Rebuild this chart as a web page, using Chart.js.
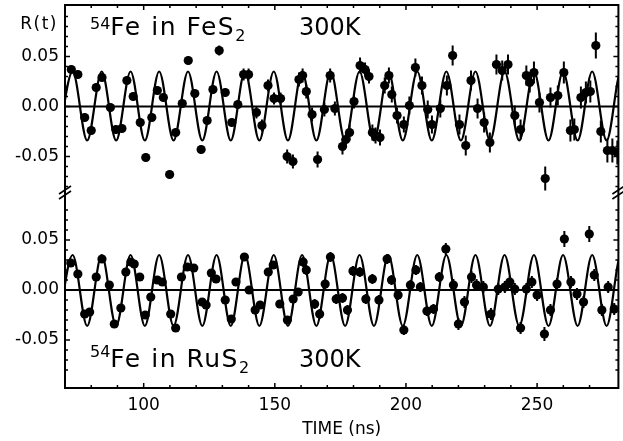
<!DOCTYPE html>
<html>
<head>
<meta charset="utf-8">
<script src="https://cdn.jsdelivr.net/npm/chart.js@4.4.1/dist/chart.umd.min.js"></script>
<style>
  html, body { margin: 0; padding: 0; background: #fff; }
  #wrap { width: 623px; height: 441px; }
</style>
</head>
<body>
<div id="wrap"><canvas id="myChart" width="623" height="441"></canvas></div>
<script>
// 54Fe in FeS2 (panneau du haut) : temps (ns), R(t), barre d'erreur
const timeTop = [72.4, 74.9, 77.5, 80.0, 81.9, 84.1, 87.3, 89.4, 91.7, 93.6,
  96.0, 98.7, 100.8, 103.1, 105.2, 107.5, 109.9, 112.2, 114.7, 117.0,
  119.5, 121.9, 124.2, 126.4, 128.8, 131.1, 133.6, 135.9, 138.1, 140.0,
  143.0, 145.1, 147.4, 149.7, 152.2, 154.7, 156.9, 159.2, 160.6, 162.0,
  164.2, 166.3, 168.9, 171.1, 172.9, 175.8, 177.1, 178.5, 180.2, 182.5,
  184.4, 185.9, 187.2, 188.4, 190.1, 191.9, 193.5, 194.6, 196.6, 199.2,
  201.3, 203.6, 206.1, 208.3, 209.9, 213.1, 215.6, 217.8, 220.4, 222.8,
  224.8, 227.3, 229.8, 232.0, 234.5, 236.7, 238.9, 241.5, 243.7, 245.9,
  247.2, 248.8, 250.9, 253.1, 255.1, 257.9, 260.2, 262.7, 264.2, 266.7,
  268.6, 270.3, 272.4, 274.3, 276.8, 278.7, 280.6];
const valueTop = [0.037, 0.032, -0.011, -0.024, 0.019, 0.029, -0.001, -0.023, -0.022, 0.026,
  0.010, -0.016, -0.051, -0.011, 0.016, 0.009, -0.068, -0.026, 0.003, 0.046,
  0.013, -0.043, -0.014, 0.017, 0.056, 0.014, -0.016, 0.002, 0.032, 0.032,
  -0.006, -0.019, 0.021, 0.008, 0.008, -0.050, -0.055, 0.027, 0.031, 0.015,
  -0.008, -0.053, -0.003, 0.031, -0.002, -0.040, -0.033, -0.026, 0.005, 0.041,
  0.037, 0.030, -0.026, -0.029, -0.031, 0.021, 0.031, 0.012, -0.009, -0.018,
  0.001, 0.039, 0.021, -0.003, -0.018, -0.002, 0.021, 0.051, -0.018, -0.039,
  0.026, -0.002, -0.016, -0.036, 0.042, 0.036, 0.042, -0.009, -0.023, 0.031,
  0.024, 0.034, 0.004, -0.072, 0.009, 0.011, 0.034, -0.024, -0.023, 0.009,
  0.014, 0.015, 0.061, -0.025, -0.044, -0.044, -0.046];
const errorTop = [0.004, 0.004, 0.004, 0.004, 0.004, 0.004, 0.004, 0.004, 0.004, 0.004,
  0.004, 0.004, 0.004, 0.004, 0.004, 0.004, 0.004, 0.004, 0.004, 0.004,
  0.004, 0.004, 0.004, 0.004, 0.005, 0.004, 0.004, 0.004, 0.006, 0.006,
  0.006, 0.006, 0.006, 0.006, 0.006, 0.007, 0.007, 0.007, 0.007, 0.007,
  0.007, 0.008, 0.007, 0.007, 0.007, 0.008, 0.008, 0.008, 0.007, 0.008,
  0.007, 0.007, 0.008, 0.008, 0.008, 0.008, 0.008, 0.008, 0.008, 0.008,
  0.009, 0.009, 0.009, 0.009, 0.009, 0.009, 0.010, 0.010, 0.010, 0.010,
  0.010, 0.010, 0.010, 0.010, 0.010, 0.010, 0.010, 0.010, 0.010, 0.010,
  0.010, 0.011, 0.010, 0.012, 0.010, 0.010, 0.011, 0.011, 0.011, 0.011,
  0.011, 0.011, 0.013, 0.011, 0.012, 0.012, 0.012];

// 54Fe in RuS2 (panneau du bas)
const timeBottom = [72.2, 74.9, 77.5, 79.4, 81.9, 84.1, 86.9, 88.8, 91.3, 93.2,
  95.1, 96.4, 98.5, 100.6, 102.7, 105.2, 107.1, 110.3, 112.2, 114.4,
  116.6, 119.1, 122.3, 123.8, 125.8, 127.6, 131.1, 133.4, 135.2, 138.4,
  140.2, 142.5, 144.4, 147.5, 149.4, 151.9, 154.8, 157.0, 158.9, 160.8,
  162.0, 165.2, 167.1, 169.2, 171.2, 173.4, 175.8, 177.7, 179.8, 182.4,
  184.7, 187.2, 189.7, 192.8, 194.5, 197.0, 199.2, 201.7, 203.8, 205.5,
  208.0, 210.5, 212.7, 215.2, 218.1, 220.0, 222.3, 225.0, 226.9, 229.5,
  232.4, 235.2, 237.7, 239.6, 241.5, 243.7, 245.9, 248.0, 250.0, 252.8,
  255.1, 257.6, 260.4, 262.9, 265.2, 267.7, 269.9, 271.8, 274.7, 277.1,
  279.4];
const valueBottom = [0.027, 0.016, -0.024, -0.022, 0.013, 0.031, 0.005, -0.034, -0.018, 0.018,
  0.028, 0.026, 0.013, -0.025, -0.007, 0.010, 0.008, -0.024, -0.038, 0.013,
  0.023, 0.022, -0.012, -0.015, 0.017, 0.011, -0.010, -0.029, 0.008, 0.033,
  0.000, -0.020, -0.015, 0.018, 0.025, -0.014, -0.030, -0.009, -0.002, 0.028,
  0.020, -0.014, -0.024, 0.006, 0.033, -0.009, -0.008, -0.020, 0.019, 0.018,
  -0.009, 0.011, -0.010, 0.031, 0.010, -0.005, -0.040, 0.005, 0.020, 0.003,
  -0.021, -0.019, 0.013, 0.041, 0.005, -0.034, -0.012, 0.013, 0.005, 0.003,
  -0.024, 0.001, 0.003, 0.008, 0.001, -0.038, 0.001, 0.008, -0.005, -0.044,
  -0.020, 0.006, 0.051, 0.008, -0.004, -0.012, 0.056, 0.015, -0.020, 0.003,
  -0.019];
const errorBottom = [0.004, 0.004, 0.004, 0.004, 0.004, 0.004, 0.004, 0.004, 0.004, 0.004,
  0.004, 0.004, 0.004, 0.004, 0.004, 0.004, 0.004, 0.004, 0.004, 0.004,
  0.004, 0.004, 0.004, 0.004, 0.004, 0.004, 0.004, 0.004, 0.004, 0.004,
  0.004, 0.004, 0.004, 0.004, 0.004, 0.004, 0.004, 0.004, 0.004, 0.005,
  0.005, 0.005, 0.005, 0.005, 0.005, 0.005, 0.005, 0.005, 0.005, 0.005,
  0.005, 0.005, 0.005, 0.005, 0.005, 0.005, 0.005, 0.005, 0.005, 0.005,
  0.005, 0.005, 0.005, 0.006, 0.006, 0.006, 0.006, 0.006, 0.006, 0.006,
  0.006, 0.006, 0.006, 0.006, 0.006, 0.006, 0.006, 0.006, 0.006, 0.007,
  0.006, 0.006, 0.008, 0.006, 0.006, 0.006, 0.008, 0.006, 0.006, 0.006,
  0.006];

// courbe ajustée : instants des creux / maxima
const fitTimes = [67.4, 72.9, 78.45, 84.0, 89.5, 95.0, 100.45, 105.9, 111.4, 116.9,
  122.35, 127.8, 133.2, 138.6, 144.1, 149.6, 155.0, 160.4, 165.85, 171.3,
  176.8, 182.3, 187.8, 193.3, 198.8, 204.3, 209.85, 215.4, 220.95, 226.5,
  232.05, 237.6, 243.2, 248.8, 254.35, 259.9, 265.45, 271.0, 276.5, 282.0,
  287.5];
const fitTop = [-0.034, 0.035, -0.034, 0.035, -0.034, 0.035, -0.034, 0.035, -0.034, 0.035,
  -0.034, 0.035, -0.034, 0.035, -0.034, 0.035, -0.034, 0.035, -0.034, 0.035,
  -0.034, 0.035, -0.034, 0.035, -0.034, 0.035, -0.034, 0.035, -0.034, 0.035,
  -0.034, 0.035, -0.034, 0.035, -0.034, 0.035, -0.034, 0.035, -0.034, 0.035,
  -0.034];
const fitBottom = [-0.036, 0.035, -0.036, 0.035, -0.036, 0.035, -0.036, 0.035, -0.036, 0.035,
  -0.036, 0.035, -0.036, 0.035, -0.036, 0.035, -0.036, 0.035, -0.036, 0.035,
  -0.036, 0.035, -0.036, 0.035, -0.036, 0.035, -0.036, 0.035, -0.036, 0.035,
  -0.036, 0.035, -0.036, 0.035, -0.036, 0.035, -0.036, 0.035, -0.036, 0.035,
  -0.036];

const xMin = 70, xMax = 281;
const xTickLabels = [100, 150, 200, 250];
const yTickLabels = [0.05, 0, -0.05];

const FONT = "'DejaVu Sans', sans-serif";

const pts = (xs, ys) => xs.map((x, i) => ({ x: x, y: ys[i] }));

function yTickLabel(v) {
  const hit = yTickLabels.find(t => Math.abs(t - v) < 1e-6);
  return hit === undefined ? '' : hit.toFixed(2);
}

function drawText(ctx, parts, x) {
  // parts : [texte, taille, ligne de base, espacement]
  parts.forEach(p => {
    ctx.font = p[1] + 'px ' + FONT;
    ctx.letterSpacing = (p[3] || 0) + 'px';
    ctx.fillText(p[0], x, p[2]);
    x += ctx.measureText(p[0]).width;
  });
  ctx.letterSpacing = '0px';
}

const framePlugin = {
  id: 'frame',
  beforeDatasetsDraw(chart) {
    const ctx = chart.ctx;
    const xs = chart.scales.x;
    ctx.save();
    ctx.strokeStyle = '#000';
    ctx.lineWidth = 2;
    [[chart.scales.yTop, timeTop, valueTop, errorTop],
     [chart.scales.yBot, timeBottom, valueBottom, errorBottom]].forEach(([ys, t, v, e]) => {
      ctx.beginPath();
      t.forEach((ti, i) => {
        const px = xs.getPixelForValue(ti);
        ctx.moveTo(px, ys.getPixelForValue(v[i] - e[i]));
        ctx.lineTo(px, ys.getPixelForValue(v[i] + e[i]));
      });
      ctx.stroke();
    });
    ctx.restore();
  },
  afterDraw(chart) {
    const ctx = chart.ctx;
    const a = chart.chartArea;
    const xs = chart.scales.x;
    ctx.save();
    ctx.strokeStyle = '#000';
    ctx.fillStyle = '#000';

    // cadre
    ctx.lineWidth = 2;
    ctx.strokeRect(a.left, a.top, a.right - a.left, a.bottom - a.top);

    // graduations intérieures
    ctx.lineWidth = 1.5;
    ctx.beginPath();
    [chart.scales.yTop, chart.scales.yBot].forEach(ys => {
      ys.ticks.forEach(tk => {
        const v = tk.value;
        if (Math.abs(v * 100 - Math.round(v * 100)) > 1e-6) return;
        const py = ys.getPixelForValue(v);
        if (py < ys.top + 2 || py > ys.bottom - 2) return;
        const len = yTickLabel(v) ? 5 : 3;
        ctx.moveTo(a.left, py); ctx.lineTo(a.left + len, py);
        ctx.moveTo(a.right, py); ctx.lineTo(a.right - len, py);
      });
    });
    xs.ticks.forEach(tk => {
      const v = tk.value;
      if (v % 10 !== 0) return;
      const px = xs.getPixelForValue(v);
      if (px < a.left + 2 || px > a.right - 2) return;
      const len = xTickLabels.includes(v) ? 5 : 3;
      ctx.moveTo(px, a.bottom); ctx.lineTo(px, a.bottom - len);
      ctx.moveTo(px, a.top); ctx.lineTo(px, a.top + len);
    });
    ctx.stroke();

    // coupure de l'axe
    const yb = chart.scales.yTop.bottom - 4;
    ctx.lineWidth = 1.6;
    ctx.beginPath();
    [a.left, a.right].forEach(x0 => {
      [-2.5, 2.5].forEach(d => {
        ctx.moveTo(x0 - 6, yb + d + 4);
        ctx.lineTo(x0 + 6, yb + d - 4);
      });
    });
    ctx.stroke();

    // textes
    ctx.textBaseline = 'alphabetic';
    ctx.textAlign = 'left';
    drawText(ctx, [['54', 16, 29], ['Fe in FeS', 25, 35, 1.5], ['2', 16, 41]], 90);
    drawText(ctx, [['300K', 24, 35]], 299);
    drawText(ctx, [['54', 16, 357], ['Fe in RuS', 25, 367, 1.5], ['2', 16, 373]], 90);
    drawText(ctx, [['300K', 24, 367]], 299);
    ctx.textAlign = 'right';
    ctx.font = '17px ' + FONT;
    ctx.letterSpacing = '1.5px';
    ctx.fillText('R(t)', 58, 29);
    ctx.restore();
  }
};

const noPadY = s => { s.width = 65; s.paddingTop = 0; s.paddingBottom = 0; };

const ctx = document.getElementById('myChart').getContext('2d');
const myChart = new Chart(ctx, {
  type: 'scatter',
  data: {
    datasets: [
      { data: pts(timeTop, valueTop), yAxisID: 'yTop', backgroundColor: '#000', borderColor: '#000', pointRadius: 4.6, pointBorderWidth: 0 },
      { data: pts(timeBottom, valueBottom), yAxisID: 'yBot', backgroundColor: '#000', borderColor: '#000', pointRadius: 4.6, pointBorderWidth: 0 },
      { data: pts(fitTimes, fitTop), yAxisID: 'yTop', showLine: true, pointRadius: 0, borderColor: '#000', borderWidth: 2.2, cubicInterpolationMode: 'monotone' },
      { data: pts(fitTimes, fitBottom), yAxisID: 'yBot', showLine: true, pointRadius: 0, borderColor: '#000', borderWidth: 2.2, cubicInterpolationMode: 'monotone' },
      { data: pts([xMin, xMax], [0, 0]), yAxisID: 'yTop', showLine: true, pointRadius: 0, borderColor: '#000', borderWidth: 2 },
      { data: pts([xMin, xMax], [0, 0]), yAxisID: 'yBot', showLine: true, pointRadius: 0, borderColor: '#000', borderWidth: 2 }
    ]
  },
  options: {
    responsive: false,
    devicePixelRatio: 1,
    animation: false,
    layout: { padding: { top: 5, right: 2, left: 0, bottom: 0 } },
    plugins: { legend: { display: false }, tooltip: { enabled: false } },
    scales: {
      x: {
        type: 'linear', position: 'bottom', min: xMin, max: xMax,
        grid: { display: false, drawTicks: false }, border: { display: false },
        ticks: { stepSize: 10, autoSkip: false, maxRotation: 0, padding: 7, color: '#000',
          font: { family: FONT, size: 17 },
          callback: v => xTickLabels.includes(v) ? String(v) : '' },
        title: { display: true, text: 'TIME (ns)', color: '#000', font: { family: FONT, size: 17 }, padding: { top: 0, bottom: 1 } },
        afterFit: s => { s.height = 53; s.paddingLeft = 0; s.paddingRight = 0; }
      },
      yBot: {
        type: 'linear', position: 'left', stack: 'panels', stackWeight: 1, min: -0.098, max: 0.0935,
        grid: { display: false, drawTicks: false }, border: { display: false },
        ticks: { stepSize: 0.01, autoSkip: false, padding: 6, color: '#000', font: { family: FONT, size: 17 }, callback: yTickLabel },
        afterFit: noPadY
      },
      yTop: {
        type: 'linear', position: 'left', stack: 'panels', stackWeight: 1, min: -0.09, max: 0.1015,
        grid: { display: false, drawTicks: false }, border: { display: false },
        ticks: { stepSize: 0.01, autoSkip: false, padding: 6, color: '#000', font: { family: FONT, size: 17 }, callback: yTickLabel },
        afterFit: noPadY
      }
    }
  },
  plugins: [framePlugin]
});
</script>
</body>
</html>
